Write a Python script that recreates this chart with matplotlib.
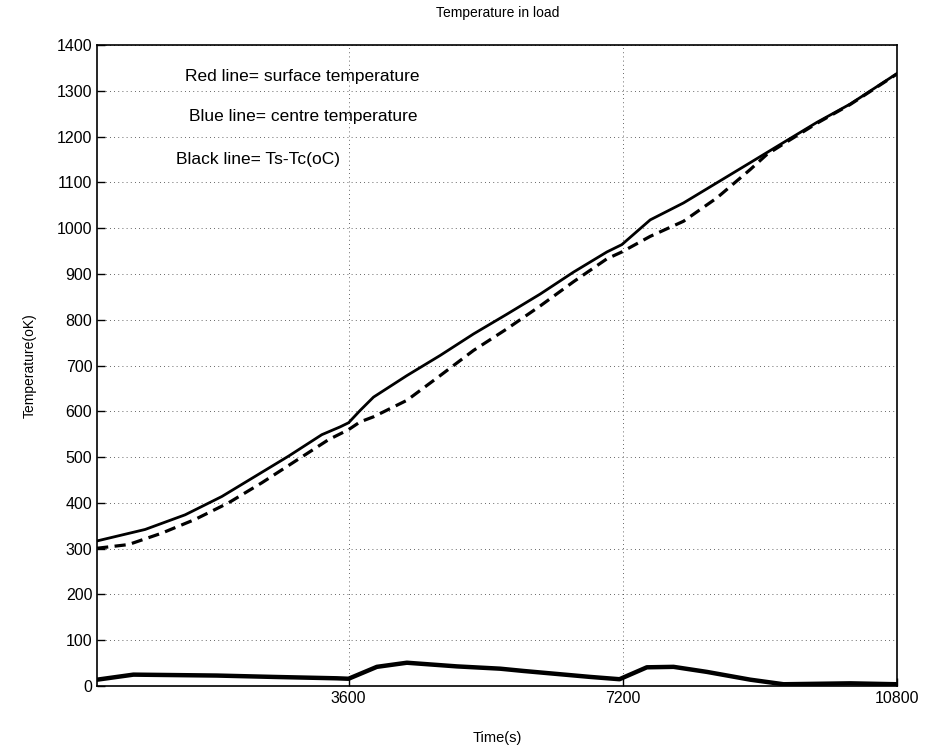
import matplotlib
matplotlib.use("Agg")
import matplotlib.pyplot as plt

plt.rcParams['font.family'] = ['Liberation Sans', 'DejaVu Sans']

# surface temperature (solid line)
t_surf = [300, 930, 1455, 1937, 2374, 2811, 3249, 3489, 3600, 3752, 3927, 4365,
          4802, 5240, 5677, 6114, 6552, 6990, 7186, 7558, 7995, 8433, 8871,
          9308, 9746, 10183, 10800]
T_surf = [317, 342, 374, 414, 458, 502, 549, 566, 575, 602, 631, 678,
          722, 769, 812, 856, 904, 948, 964, 1018, 1055, 1099, 1143,
          1187, 1231, 1271, 1338]

# centre temperature (dashed line)
t_cent = [300, 711, 1149, 1586, 2023, 2462, 2899, 3336, 3600, 3752, 3927, 4365,
          4802, 5240, 5677, 6114, 6552, 6990, 7186, 7558, 7995, 8433, 8871,
          9090, 9308, 9746, 10183, 10800]
T_cent = [301, 309, 334, 364, 400, 444, 491, 538, 560, 577, 588, 624,
          678, 733, 780, 830, 883, 933, 948, 982, 1015, 1066, 1128,
          1161, 1184, 1229, 1270, 1337]

# Ts - Tc (thick line)
t_diff = [300, 776, 1871, 2615, 3446, 3599, 3971, 4365, 5021, 5589, 5896,
          6771, 7155, 7514, 7864, 8301, 8871, 9308, 10183, 10800]
T_diff = [14, 25, 23, 20, 17, 16, 42, 51, 43, 38, 33,
          20, 15, 41, 42, 31, 14, 4, 6, 4]

xticks = [3600, 7200, 10800]
yticks = list(range(0, 1500, 100))

fig = plt.figure(figsize=(9.25, 7.49), dpi=100)
ax = fig.add_axes([0.105, 0.084, 0.865, 0.856])

ax.plot(t_surf, T_surf, color='black', lw=2.0)
ax.plot(t_cent, T_cent, color='black', lw=2.3, ls=(0, (3.5, 2)))
ax.plot(t_diff, T_diff, color='black', lw=3.2)

ax.set_xlim(300, 10800)
ax.set_ylim(0, 1400)
ax.set_xticks(xticks)
ax.set_yticks(yticks)
ax.tick_params(direction='in', length=6, labelsize=11.5, width=1)
ax.grid(True, ls=(0, (1, 4)), color='black', lw=0.6, alpha=0.8)
for s in ax.spines.values():
    s.set_linewidth(1.2)

ax.set_title('Temperature in load', fontsize=10, pad=20)
ax.set_xlabel('Time(s)', fontsize=10.5, labelpad=18)
ax.set_ylabel('Temperature(oK)', fontsize=10, labelpad=14)

ax.text(1455, 1330, 'Red line= surface temperature', fontsize=12.5, va='center')
ax.text(1500, 1243, 'Blue line= centre temperature', fontsize=12.5, va='center')
ax.text(1330, 1150, 'Black line= Ts-Tc(oC)', fontsize=12.5, va='center')

fig.savefig('out.png', dpi=100)
